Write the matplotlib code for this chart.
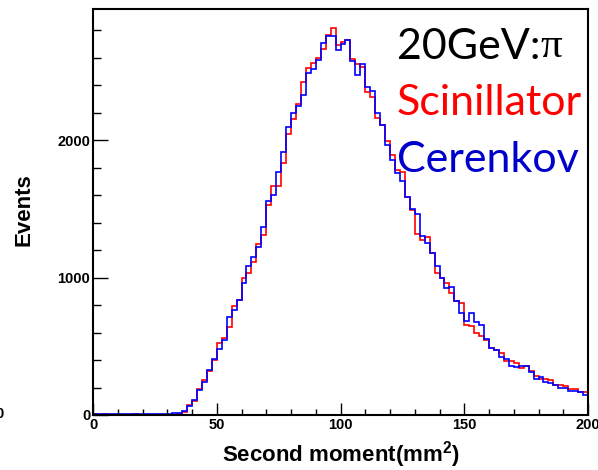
import matplotlib
matplotlib.use("Agg")
import matplotlib.pyplot as plt
import numpy as np
from matplotlib.ticker import MultipleLocator

# 100 bins of width 2 mm^2 between 0 and 200
BIN_EDGES = np.linspace(0, 200, 101)

SCINT = [
    8, 0, 5, 0, 0, 0, 0, 0, 8, 0, 0, 0, 0, 0, 0, 0, 3, 6, 25, 70,
    100, 190, 255, 320, 400, 521, 560, 642, 790, 840, 994, 1032, 1110, 1243, 1309, 1527, 1668, 1668, 1835, 2041,
    2150, 2259, 2422, 2527, 2562, 2594, 2660, 2764, 2812, 2691, 2715, 2727, 2587, 2553, 2533, 2351, 2310, 2158, 2109, 1990,
    1891, 1782, 1765, 1588, 1490, 1316, 1273, 1297, 1180, 1035, 997, 958, 885, 826, 817, 655, 647, 594, 575, 545,
    486, 473, 450, 395, 390, 376, 339, 356, 323, 286, 259, 259, 255, 218, 218, 211, 187, 187, 170, 170,
]

CEREN = [
    4, 4, 4, 4, 4, 4, 4, 4, 4, 4, 4, 4, 4, 4, 4, 4, 12, 15, 31, 65,
    109, 182, 240, 327, 410, 480, 545, 713, 764, 836, 962, 1086, 1147, 1219, 1365, 1560, 1600, 1765, 1915, 2097,
    2194, 2247, 2325, 2490, 2514, 2582, 2703, 2759, 2759, 2655, 2698, 2727, 2577, 2473, 2553, 2388, 2359, 2194, 2109, 1964,
    1855, 1762, 1704, 1588, 1498, 1462, 1302, 1253, 1180, 1084, 997, 921, 933, 829, 744, 686, 744, 679, 655, 550,
    490, 473, 424, 405, 354, 351, 356, 356, 315, 259, 279, 242, 230, 218, 194, 194, 175, 175, 170, 145,
]

LABEL_LINES = ["20GeV:", "Scinillator", "Cerenkov"]
LABEL_COLORS = ["black", "#ff0000", "#0000cc"]

plt.rcParams["font.family"] = ["Liberation Sans", "DejaVu Sans"]
plt.rcParams["mathtext.fontset"] = "custom"
plt.rcParams["mathtext.rm"] = "Liberation Sans:bold"
plt.rcParams["mathtext.bf"] = "Liberation Sans:bold"

W, H = 598, 470
fig = plt.figure(figsize=(W / 100, H / 100), dpi=100)
ax = fig.add_axes([93 / W, 1 - 415 / H, 495 / W, 406 / H])

ax.stairs(SCINT, BIN_EDGES, color="#ff0000", lw=1.2)
ax.stairs(CEREN, BIN_EDGES, color="#0000ff", lw=1.2)

ax.set_xlim(0, 200)
ax.set_ylim(0, 2953)
for s in ax.spines.values():
    s.set_linewidth(1.5)

ax.xaxis.set_major_locator(MultipleLocator(50))
ax.xaxis.set_minor_locator(MultipleLocator(10))
ax.yaxis.set_major_locator(MultipleLocator(1000))
ax.yaxis.set_minor_locator(MultipleLocator(200))
ax.tick_params(axis="x", which="major", direction="in", length=8.6, width=1, pad=2, labelsize=10.5)
ax.tick_params(axis="x", which="minor", direction="in", length=4.3, width=1)
ax.tick_params(axis="y", which="major", direction="in", length=10.7, width=1, pad=2, labelsize=10.5)
ax.tick_params(axis="y", which="minor", direction="in", length=5.4, width=1)
for lab in ax.get_xticklabels() + ax.get_yticklabels():
    lab.set_fontweight("bold")

ax.set_xlabel(r"Second moment(mm$^{\mathbf{2}}$)", fontsize=16, fontweight="bold", va="baseline")
ax.xaxis.set_label_coords(0.5, -(461 - 415) / 406)
ax.set_ylabel("Events", fontsize=16, fontweight="bold", va="center")
ax.yaxis.set_label_coords((24 - 93) / 495, (415 - 210) / 406)

baselines = [59, 115, 172]
texts = []
for line, col, yb in zip(LABEL_LINES, LABEL_COLORS, baselines):
    t = fig.text(397 / W, 1 - yb / H, line, color=col, fontsize=31,
                 family="Lato", va="baseline", ha="left")
    texts.append(t)
ax.annotate("\u03c0", xy=(1, 0), xycoords=texts[0], fontsize=31,
            family="Liberation Serif", va="bottom", ha="left", annotation_clip=False)

# stray cropped tick label at the far left edge
fig.text(0.0, 1 - 414 / H, "0", fontsize=10.5, fontweight="bold", ha="center", va="center")

fig.savefig("out.png", dpi=100)
